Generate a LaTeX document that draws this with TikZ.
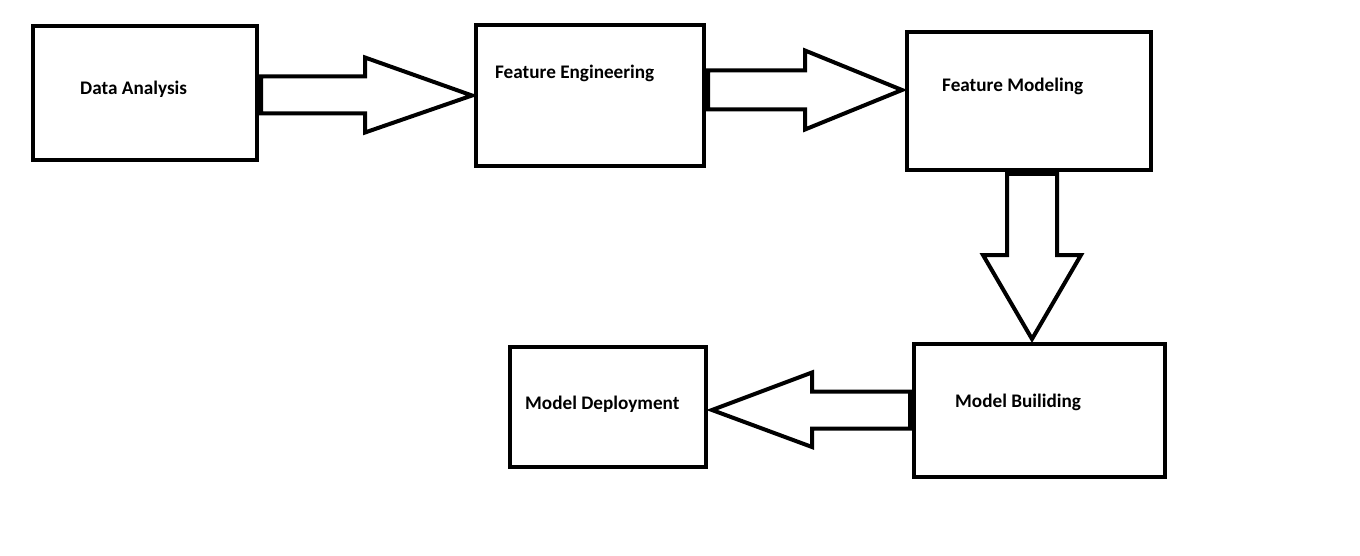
\documentclass[tikz,border=0pt]{standalone}
\usepackage{fontspec}
\setmainfont{Carlito}
\usetikzlibrary{calc}

\begin{document}
\begin{tikzpicture}[x=1pt, y=-1pt,
  box/.style={draw, line width=4pt, inner sep=0pt},
  label/.style={anchor=base west, inner sep=0pt, font=\fontsize{19.2}{23}\selectfont\bfseries},
  blockarrow/.style={line width=4pt}]

\useasboundingbox (0,0) rectangle (1360,556);

% Place the boxes of the pipeline
\node[box, minimum width=224pt, minimum height=134pt] (da) at (145,93) {};
\node[box, minimum width=228pt, minimum height=141pt] (fe) at (590,95.5) {};
\node[box, minimum width=244pt, minimum height=138pt] (fm) at (1029,101) {};
\node[box, minimum width=251pt, minimum height=133pt] (mb) at (1039.5,410.5) {};
\node[box, minimum width=196pt, minimum height=120pt] (md) at (608,407) {};

% Write the labels near the top left of each box
\node[label] at ($(da.north west)+(49,71)$) {Data Analysis};
\node[label] at ($(fe.north west)+(21,56)$) {Feature Engineering};
\node[label] at ($(fm.north west)+(37,62)$) {Feature Modeling};
\node[label] at ($(mb.north west)+(43,65)$) {Model Builiding};
\node[label] at ($(md.north west)+(17,64)$) {Model Deployment};

% Draw the block arrows between the boxes
\coordinate (t1) at ($(fe.west)+(-2,0)$);
\path (t1) ++(-107,-19) coordinate (h1);
\draw[blockarrow] (t1) -- ++(-107,-38) -- (h1) -- ($(h1 -| da.east)+(2,0)$) -- ++(0,37) -- ($(h1)+(0,37)$) -- ++(0,19) -- cycle;

\coordinate (t2) at ($(fm.west)+(-3,-11)$);
\path (t2) ++(-97,-19.5) coordinate (h2);
\draw[blockarrow] (t2) -- ++(-97,-39.5) -- (h2) -- ($(h2 -| fe.east)+(2,0)$) -- ++(0,39) -- ($(h2)+(0,39)$) -- ++(0,20) -- cycle;

\coordinate (t3) at ($(mb.north)+(-7.5,-3)$);
\path (t3) ++(-25,-84) coordinate (h3);
\draw[blockarrow] (t3) -- ++(-49,-84) -- (h3) -- ($(h3 |- fm.south)+(0,2)$) -- ++(50,0) -- ($(h3)+(50,0)$) -- ++(24,0) -- cycle;

\coordinate (t4) at ($(md.east)+(4,3)$);
\path (t4) ++(100,-18.5) coordinate (h4);
\draw[blockarrow] (t4) -- ++(100,-37.5) -- (h4) -- ($(h4 -| mb.west)+(-2,0)$) -- ++(0,37) -- ($(h4)+(0,37)$) -- ++(0,18.5) -- cycle;

\end{tikzpicture}
\end{document}
